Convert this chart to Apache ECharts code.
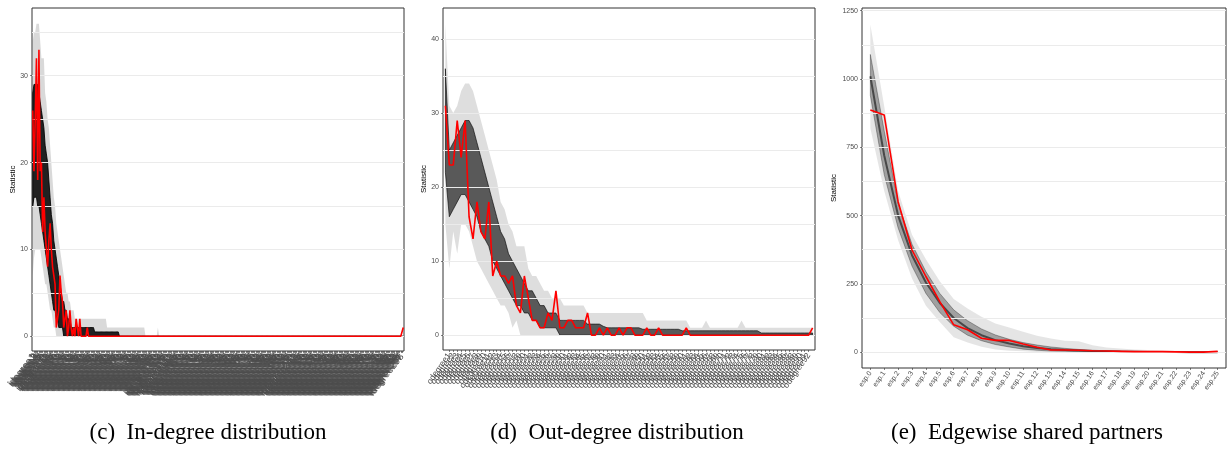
<!DOCTYPE html>
<html><head><meta charset="utf-8">
<script src="https://cdn.jsdelivr.net/npm/echarts@6/dist/echarts.min.js"></script>
<style>html,body{margin:0;padding:0;background:#fff}#chart{width:1229px;height:454px}</style>
</head><body><div id="chart"></div>
<script>
// ---------- DATA ----------
// (c) In-degree distribution: categories idegree0..idegree299
const inCats = Array.from({length: 300}, (_, i) => 'idegree' + i);
const inObs = [
26,19,25,32,18,33,19,20,12,16,12,10,8,11,13,10,8,8,6,1,
2,3,7,5,4,1,2,3,0,1,3,1,0,1,0,2,1,0,2,0,
0,0,0,0,1,0,0,0,0,0,0,0,0,0,0,0,0,0,0,0,
0,0,0,0,0,0,0,0,0,0,0,0,0,0,0,0,0,0,0,0,
0,0,0,0,0,0,0,0,0,0,0,0,0,0,0,0,0,0,0,0,
0,0,0,0,0,0,0,0,0,0,0,0,0,0,0,0,0,0,0,0,
0,0,0,0,0,0,0,0,0,0,0,0,0,0,0,0,0,0,0,0,
0,0,0,0,0,0,0,0,0,0,0,0,0,0,0,0,0,0,0,0,
0,0,0,0,0,0,0,0,0,0,0,0,0,0,0,0,0,0,0,0,
0,0,0,0,0,0,0,0,0,0,0,0,0,0,0,0,0,0,0,0,
0,0,0,0,0,0,0,0,0,0,0,0,0,0,0,0,0,0,0,0,
0,0,0,0,0,0,0,0,0,0,0,0,0,0,0,0,0,0,0,0,
0,0,0,0,0,0,0,0,0,0,0,0,0,0,0,0,0,0,0,0,
0,0,0,0,0,0,0,0,0,0,0,0,0,0,0,0,0,0,0,0,
0,0,0,0,0,0,0,0,0,0,0,0,0,0,0,0,0,0,0,1];
const inSimMax = [
34,35,35,36,36,36,34,32,32,32,28,27,25,24,22,20,18,16,15,13,
12,11,10,9,8,7,6,5,5,4,4,3,3,3,2,2,2,2,2,2,
2,2,2,2,2,2,2,2,2,2,2,2,2,2,2,2,2,2,2,2,
1,1,1,1,1,1,1,1,1,1,1,1,1,1,1,1,1,1,1,1,
1,1,1,1,1,1,1,1,1,1,1,0,0,0,0,0,0,0,0,0,
0,1,0,0,0,0,0,0,0,0,0,0,0,0,0,0,0,0,0,0,
0,0,0,0,0,0,0,0,0,0,0,0,0,0,0,0,0,0,0,0,
0,0,0,0,0,0,0,0,0,0,0,0,0,0,0,0,0,0,0,0,
0,0,0,0,0,0,0,0,0,0,0,0,0,0,0,0,0,0,0,0,
0,0,0,0,0,0,0,0,0,0,0,0,0,0,0,0,0,0,0,0,
0,0,0,0,0,0,0,0,0,0,0,0,0,0,0,0,0,0,0,0,
0,0,0,0,0,0,0,0,0,0,0,0,0,0,0,0,0,0,0,0,
0,0,0,0,0,0,0,0,0,0,0,0,0,0,0,0,0,0,0,0,
0,0,0,0,0,0,0,0,0,0,0,0,0,0,0,0,0,0,0,0,
0,0,0,0,0,0,0,0,0,0,0,0,0,0,0,0,0,0,0,0];
const inSimHi = [
28,29,29,29,29,28,27,26,25,24,22,21,20,18,16,14,13,11,10,9,
8,7,6,5,4,4,3,3,2,2,2,1,1,1,1,1,1,1,1,1,
1,1,1,1,1,1,1,1,1,1,0.5,0.5,0.5,0.5,0.5,0.5,0.5,0.5,0.5,0.5,
0.5,0.5,0.5,0.5,0.5,0.5,0.5,0.5,0.5,0.5,0,0,0,0,0,0,0,0,0,0,
0,0,0,0,0,0,0,0,0,0,0,0,0,0,0,0,0,0,0,0,
0,0,0,0,0,0,0,0,0,0,0,0,0,0,0,0,0,0,0,0,
0,0,0,0,0,0,0,0,0,0,0,0,0,0,0,0,0,0,0,0,
0,0,0,0,0,0,0,0,0,0,0,0,0,0,0,0,0,0,0,0,
0,0,0,0,0,0,0,0,0,0,0,0,0,0,0,0,0,0,0,0,
0,0,0,0,0,0,0,0,0,0,0,0,0,0,0,0,0,0,0,0,
0,0,0,0,0,0,0,0,0,0,0,0,0,0,0,0,0,0,0,0,
0,0,0,0,0,0,0,0,0,0,0,0,0,0,0,0,0,0,0,0,
0,0,0,0,0,0,0,0,0,0,0,0,0,0,0,0,0,0,0,0,
0,0,0,0,0,0,0,0,0,0,0,0,0,0,0,0,0,0,0,0,
0,0,0,0,0,0,0,0,0,0,0,0,0,0,0,0,0,0,0,0];
const inSimLo = [
15,16,16,16,15,15,14,13,12,11,10,9,8,7,6,5,4,3,3,2,
2,1,1,1,1,0,0,0,0,0,0,0,0,0,0,0,0,0,0,0,
0,0,0,0,0,0,0,0,0,0,0,0,0,0,0,0,0,0,0,0,
0,0,0,0,0,0,0,0,0,0,0,0,0,0,0,0,0,0,0,0,
0,0,0,0,0,0,0,0,0,0,0,0,0,0,0,0,0,0,0,0,
0,0,0,0,0,0,0,0,0,0,0,0,0,0,0,0,0,0,0,0,
0,0,0,0,0,0,0,0,0,0,0,0,0,0,0,0,0,0,0,0,
0,0,0,0,0,0,0,0,0,0,0,0,0,0,0,0,0,0,0,0,
0,0,0,0,0,0,0,0,0,0,0,0,0,0,0,0,0,0,0,0,
0,0,0,0,0,0,0,0,0,0,0,0,0,0,0,0,0,0,0,0,
0,0,0,0,0,0,0,0,0,0,0,0,0,0,0,0,0,0,0,0,
0,0,0,0,0,0,0,0,0,0,0,0,0,0,0,0,0,0,0,0,
0,0,0,0,0,0,0,0,0,0,0,0,0,0,0,0,0,0,0,0,
0,0,0,0,0,0,0,0,0,0,0,0,0,0,0,0,0,0,0,0,
0,0,0,0,0,0,0,0,0,0,0,0,0,0,0,0,0,0,0,0];
const inSimMin = [
7,9,10,10,10,10,10,9,8,7,6,6,5,4,3,3,2,1,1,0,
0,0,0,0,0,0,0,0,0,0,0,0,0,0,0,0,0,0,0,0,
0,0,0,0,0,0,0,0,0,0,0,0,0,0,0,0,0,0,0,0,
0,0,0,0,0,0,0,0,0,0,0,0,0,0,0,0,0,0,0,0,
0,0,0,0,0,0,0,0,0,0,0,0,0,0,0,0,0,0,0,0,
0,0,0,0,0,0,0,0,0,0,0,0,0,0,0,0,0,0,0,0,
0,0,0,0,0,0,0,0,0,0,0,0,0,0,0,0,0,0,0,0,
0,0,0,0,0,0,0,0,0,0,0,0,0,0,0,0,0,0,0,0,
0,0,0,0,0,0,0,0,0,0,0,0,0,0,0,0,0,0,0,0,
0,0,0,0,0,0,0,0,0,0,0,0,0,0,0,0,0,0,0,0,
0,0,0,0,0,0,0,0,0,0,0,0,0,0,0,0,0,0,0,0,
0,0,0,0,0,0,0,0,0,0,0,0,0,0,0,0,0,0,0,0,
0,0,0,0,0,0,0,0,0,0,0,0,0,0,0,0,0,0,0,0,
0,0,0,0,0,0,0,0,0,0,0,0,0,0,0,0,0,0,0,0,
0,0,0,0,0,0,0,0,0,0,0,0,0,0,0,0,0,0,0,0];
const inYTicks = [0, 10, 20, 30];
const inYMinor = [5, 15, 25, 35];

// (d) Out-degree distribution: categories odegree0..odegree93
const outCats = Array.from({length: 94}, (_, i) => 'odegree' + i);
const outObs = [
31,23,23,29,24,29,16,13,18,14,13,18,8,10,8,8,7,8,4,3,
8,5,2,2,1,1,3,2,6,1,1,2,2,1,1,1,3,0,0,1,
0,1,0,0,1,0,1,1,0,0,0,1,0,0,1,0,0,0,0,0,
0,1,0,0,0,0,0,0,0,0,0,0,0,0,0,0,0,0,0,0,
0,0,0,0,0,0,0,0,0,0,0,0,0,1];
const outSimMax = [
42,31,30,31,33,34,34,33,31,29,27,25,23,21,18,17,15,14,12,12,
12,9,8,8,7,6,6,5,5,5,4,4,4,4,4,4,3,3,3,3,
3,3,3,3,3,3,3,3,3,3,3,2,2,2,2,2,2,2,2,2,
2,2,1,1,1,1,2,1,1,1,1,1,1,1,1,2,1,1,1,1,
1,1,1,1,1,1,1,1,1,1,1,1,1,1];
const outSimHi = [
36,25,26,27,28,29,29,28,26,24,22,20,18,16,14,13,11,10,9,8,
7,6,6,5,4,4,3,3,3,2,2,2,2,2,2,2,1.5,1.5,1.5,1.5,
1.2,1,1,1,1,1,1,1,1,1,0.8,0.8,0.8,0.8,0.8,0.8,0.8,0.8,0.8,0.8,
0.6,0.6,0.6,0.6,0.6,0.6,0.6,0.6,0.6,0.6,0.6,0.6,0.6,0.6,0.6,0.6,0.6,0.6,0.6,0.6,
0.3,0.3,0.3,0.3,0.3,0.3,0.3,0.3,0.3,0.3,0.3,0.3,0.3,0.3];
const outSimLo = [
22,16,17,18,19,19,18,17,16,14,13,12,10,9,8,7,6,5,4,4,
3,3,2,2,1,1,1,1,1,0,0,0,0,0,0,0,0,0,0,0,
0,0,0,0,0,0,0,0,0,0,0,0,0,0,0,0,0,0,0,0,
0,0,0,0,0,0,0,0,0,0,0,0,0,0,0,0,0,0,0,0,
0,0,0,0,0,0,0,0,0,0,0,0,0,0];
const outSimMin = [
15,9,14,11,15,15,14,12,10,9,8,7,6,5,4,4,3,1,2,0,
0,0,0,0,0,0,0,0,0,0,0,0,0,0,0,0,0,0,0,0,
0,0,0,0,0,0,0,0,0,0,0,0,0,0,0,0,0,0,0,0,
0,0,0,0,0,0,0,0,0,0,0,0,0,0,0,0,0,0,0,0,
0,0,0,0,0,0,0,0,0,0,0,0,0,0];
const outYTicks = [0, 10, 20, 30, 40];
const outYMinor = [5, 15, 25, 35];

// (e) Edgewise shared partners
const espCats = ['esp.0','esp.1','esp.2','esp.3','esp.4','esp.5','esp.6','esp.7','esp.8','esp.9','esp.10','esp.11','esp.12','esp.13','esp.14','esp.15','esp.16','esp.17','esp.18','esp.19','esp.20','esp.21','esp.22','esp.23','esp.24','esp.25'];
const espObs    = [887,868,551,374,277,185,100,82,51,43,43,30,18,8,8,7,5,4,3,2,2,2,1,0,0,3];
const espSimMax = [1200,900,590,430,340,260,195,160,130,105,90,75,60,50,42,40,25,17,13,10,8,6,5,4,3,2];
const espSimHi  = [1090,810,545,395,295,215,155,115,85,63,47,35,26,19,14,10,7,5,4,3,2,2,1,1,1,1];
const espSimMid = [1010,720,500,355,255,180,125,88,62,44,32,22,15,11,8,6,4,3,2,1.5,1,1,0.5,0,0,0];
const espSimLo  = [940,650,455,315,215,145,95,62,42,28,19,11,7,4,3,2,1,1,0,0,0,0,0,0,0,0];
const espSimMin = [820,590,410,270,170,110,55,35,20,10,5,3,1,0,0,0,0,0,0,0,0,0,0,0,0,0];
const espYTicks = [0, 250, 500, 750, 1000, 1250];
const espYMinor = [125, 375, 625, 875, 1125];

const yTitle = 'Statistic';
const captions = ['(c)  In-degree distribution', '(d)  Out-degree distribution', '(e)  Edgewise shared partners'];

// ---------- LAYOUT / STYLE ----------
const FONT = '"Liberation Sans", Arial, sans-serif';
const panels = [
  {cats: inCats, obs: inObs, max: inSimMax, hi: inSimHi, lo: inSimLo, min: inSimMin, mid: null,
   yTicks: inYTicks, yMinor: inYMinor, ymin: -1.7, ymax: 37.8, xFont: 10, xRot: 52,
   grid: {left: 32, top: 8, width: 372, height: 343},
   outer: 'rgba(0,0,0,0.15)', core: 'rgba(0,0,0,0.85)', titleX: 13, capX: 208},
  {cats: outCats, obs: outObs, max: outSimMax, hi: outSimHi, lo: outSimLo, min: outSimMin, mid: null,
   yTicks: outYTicks, yMinor: outYMinor, ymin: -2.0, ymax: 44.2, xFont: 8.5, xRot: 55,
   grid: {left: 443, top: 8, width: 372, height: 342},
   outer: 'rgba(0,0,0,0.13)', core: 'rgba(0,0,0,0.6)', titleX: 424, capX: 617},
  {cats: espCats, obs: espObs, max: espSimMax, hi: espSimHi, lo: espSimLo, min: espSimMin, mid: espSimMid,
   yTicks: espYTicks, yMinor: espYMinor, ymin: -58, ymax: 1260, xFont: 7, xRot: 55,
   grid: {left: 862, top: 8, width: 364, height: 360},
   outer: 'rgba(0,0,0,0.10)', core: 'rgba(0,0,0,0.3)', titleX: 834, capX: 1027}
];

function band(k, upper, lower, fill, stroke) {
  return {
    type: 'custom', xAxisIndex: k, yAxisIndex: k, data: [[0, 0]], silent: true, z: 2,
    renderItem: function (params, api) {
      const pts = [];
      for (let i = 0; i < upper.length; i++) pts.push(api.coord([i, upper[i]]));
      for (let i = lower.length - 1; i >= 0; i--) pts.push(api.coord([i, lower[i]]));
      return {type: 'polygon', shape: {points: pts},
        style: {fill: fill, stroke: stroke || null, lineWidth: stroke ? 1 : 0}};
    }
  };
}

const option = {animation: false, backgroundColor: '#fff', textStyle: {fontFamily: FONT},
  grid: [], xAxis: [], yAxis: [], series: [], graphic: []};

panels.forEach(function (p, k) {
  option.grid.push(Object.assign({show: true, borderColor: '#333', borderWidth: 1, backgroundColor: '#fff'}, p.grid));
  const idx = p.cats.map(function (_, i) { return i; });
  option.xAxis.push({type: 'value', gridIndex: k, min: -0.6, max: p.cats.length - 1 + 0.6, position: 'bottom',
    axisLine: {show: false, onZero: false}, splitLine: {show: false},
    axisTick: {show: true, customValues: idx, length: 2, lineStyle: {color: '#333', width: 0.6}},
    axisLabel: {customValues: idx, formatter: function (v) { return p.cats[Math.round(v)]; },
      rotate: p.xRot, fontSize: p.xFont, color: '#4d4d4d', fontFamily: FONT, margin: 4}});
  option.yAxis.push({type: 'value', gridIndex: k, min: p.ymin, max: p.ymax, position: 'left',
    axisLine: {show: false, onZero: false}, splitLine: {show: false},
    axisTick: {show: true, customValues: p.yTicks, length: 2, lineStyle: {color: '#333', width: 0.6}},
    axisLabel: {customValues: p.yTicks, formatter: function (v) { return String(v); },
      fontSize: 7, color: '#4d4d4d', fontFamily: FONT, margin: 4}});
  // gridlines (major + minor)
  option.series.push({type: 'line', xAxisIndex: k, yAxisIndex: k, data: [], silent: true, z: 1,
    markLine: {silent: true, symbol: ['none', 'none'], label: {show: false}, animation: false,
      lineStyle: {color: '#ebebeb', width: 1, type: 'solid'},
      data: p.yTicks.concat(p.yMinor).map(function (v) { return {yAxis: v}; })}});
  option.series.push(band(k, p.max, p.min, p.outer, null));
  option.series.push(band(k, p.hi, p.lo, p.core, p.core));
  if (p.mid) {
    option.series.push({type: 'line', xAxisIndex: k, yAxisIndex: k, silent: true, z: 3,
      data: p.mid.map(function (v, i) { return [i, v]; }), symbol: 'none',
      lineStyle: {color: 'rgba(0,0,0,0.55)', width: 2}});
  }
  option.series.push({type: 'line', xAxisIndex: k, yAxisIndex: k, silent: true, z: 5,
    data: p.obs.map(function (v, i) { return [i, v]; }), symbol: 'none',
    lineStyle: {color: '#ff0000', width: 1.6}});
  option.graphic.push({type: 'text', x: p.titleX, y: p.grid.top + p.grid.height / 2, rotation: Math.PI / 2,
    style: {text: yTitle, fill: '#000', font: '8px ' + FONT, align: 'center', verticalAlign: 'middle'}});
  option.graphic.push({type: 'text', x: p.capX, y: 433,
    style: {text: captions[k], fill: '#000', font: '23px "Liberation Serif", "Times New Roman", serif', align: 'center', verticalAlign: 'middle'}});
});

const chart = echarts.init(document.getElementById('chart'), null, {renderer: 'canvas'});
chart.setOption(option);
</script>
</body></html>
